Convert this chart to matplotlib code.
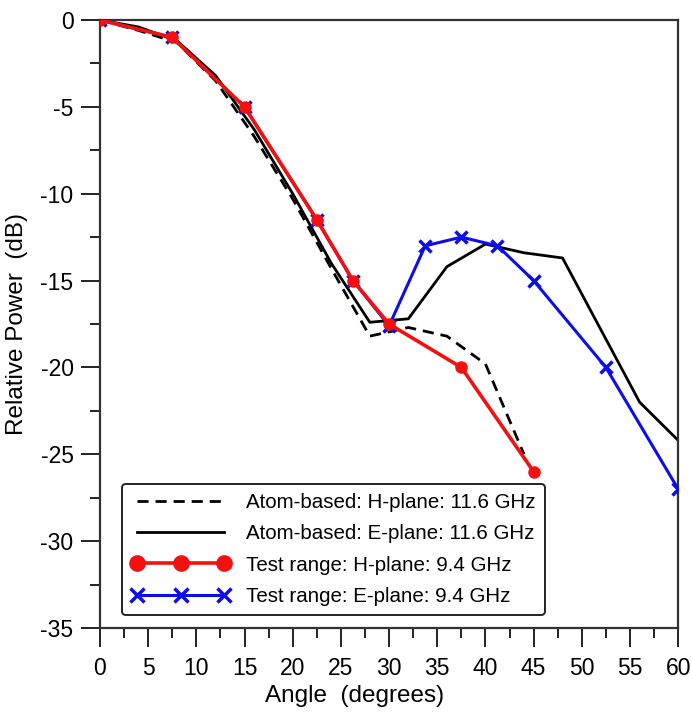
"""
Relative power vs angle: atom-based simulation vs test-range measurement.
"""
import matplotlib
matplotlib.use("Agg")
import matplotlib.pyplot as plt
from matplotlib.ticker import MultipleLocator

plt.rcParams["font.family"] = ["Liberation Sans", "DejaVu Sans"]
plt.rcParams["axes.unicode_minus"] = False

# atom-based, H-plane, 11.6 GHz (dashed)
atom_h_angle = [0, 4, 8, 12, 16, 20, 24, 28, 32, 36, 40, 44]
atom_h_db = [0, -0.6, -1.3, -3.5, -6.7, -10.3, -14.3, -18.2, -17.7, -18.2, -19.8, -25.0]

# atom-based, E-plane, 11.6 GHz (solid)
atom_e_angle = [0, 4, 8, 12, 16, 20, 24, 28, 32, 36, 40, 44, 48, 56, 60]
atom_e_db = [0, -0.4, -1.2, -3.2, -6.3, -10.0, -14.0, -17.4, -17.2, -14.2,
             -12.9, -13.4, -13.7, -22.0, -24.2]

# test range, H-plane, 9.4 GHz
test_h_angle = [0, 7.5, 15, 22.5, 26.25, 30, 37.5, 45]
test_h_db = [0, -1, -5, -11.5, -15, -17.5, -20, -26]

# test range, E-plane, 9.4 GHz
test_e_angle = [0, 7.5, 15, 22.5, 26.25, 30, 33.75, 37.5, 41.25, 45, 52.5, 60]
test_e_db = [0, -1, -5, -11.5, -15, -17.6, -13, -12.5, -13, -15, -20, -27]

fig = plt.figure(figsize=(6.92, 7.15), dpi=100)
ax = fig.add_axes([0.1445, 0.1217, 0.8355, 0.8503])

ax.plot(atom_h_angle, atom_h_db, color="black", linestyle=(0, (4, 2.5)), linewidth=2.0,
        label="Atom-based: H-plane: 11.6 GHz", zorder=2)
ax.plot(atom_e_angle, atom_e_db, color="black", linewidth=2.0,
        label="Atom-based: E-plane: 11.6 GHz", zorder=2)
ax.plot(test_e_angle, test_e_db, color="#0c0cf0", linewidth=2.2, marker="x",
        markersize=9, markeredgewidth=2.5,
        label="Test range: E-plane: 9.4 GHz", zorder=3)
ax.plot(test_h_angle, test_h_db, color="#f51010", linewidth=2.6, marker="o",
        markersize=8, label="Test range: H-plane: 9.4 GHz", zorder=4)

ax.set_xlim(0, 60)
ax.set_ylim(-35, 0)
ax.xaxis.set_major_locator(MultipleLocator(5))
ax.xaxis.set_minor_locator(MultipleLocator(2.5))
ax.yaxis.set_major_locator(MultipleLocator(5))
ax.yaxis.set_minor_locator(MultipleLocator(2.5))
ax.tick_params(which="major", direction="out", length=14, width=1.4, labelsize=16.5,
               color="#222222")
ax.tick_params(axis="x", which="major", pad=7)
ax.tick_params(axis="y", which="major", pad=5)
ax.tick_params(which="minor", direction="out", length=7, width=1.4, color="#222222")
for sp in ax.spines.values():
    sp.set_color("#333333")
    sp.set_linewidth(1.6)

ax.set_xlabel("Angle  (degrees)", fontsize=17.5)
ax.set_ylabel("Relative Power  (dB)", fontsize=17.5)
ax.xaxis.set_label_coords(0.44, -0.093)
ax.yaxis.set_label_coords(-0.125, 0.5)

handles, labels = ax.get_legend_handles_labels()
order = [0, 1, 3, 2]
leg = ax.legend([handles[i] for i in order], [labels[i] for i in order],
                loc="lower left", bbox_to_anchor=(0.038, 0.021), borderaxespad=0,
                fontsize=14.8, numpoints=3, handlelength=4.8, handletextpad=0.8,
                labelspacing=0.6, borderpad=0.45, fancybox=True, framealpha=1)
leg.get_frame().set_edgecolor("#222222")
leg.get_frame().set_linewidth(1.4)
for h in leg.legend_handles:
    if h.get_marker() == "o":
        h.set_markersize(11)
    elif h.get_marker() == "x":
        h.set_markersize(10)

fig.savefig("out.png", dpi=100)
